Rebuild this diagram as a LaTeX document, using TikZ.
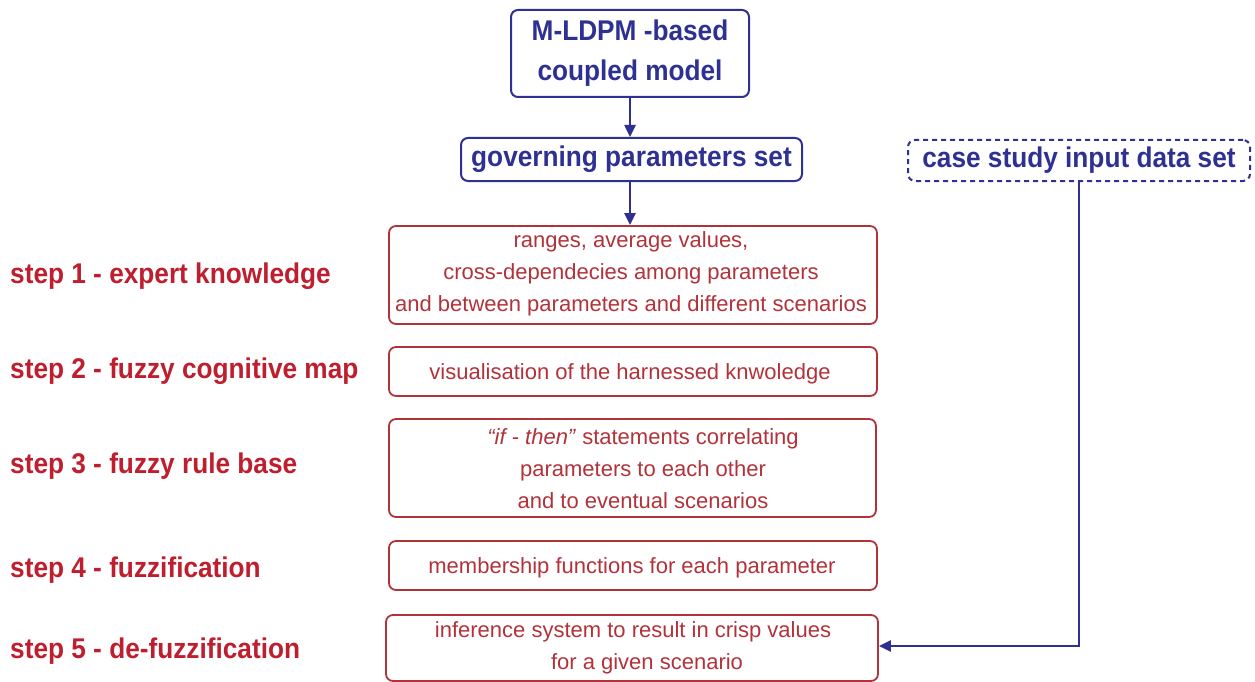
\documentclass[tikz,border=0pt]{standalone}
\usepackage{fontspec}
\setmainfont{Liberation Sans}
\newfontfamily\narrowbold[FakeStretch=0.92]{Liberation Sans Bold}
\usetikzlibrary{arrows.meta,positioning}
\definecolor{navy}{RGB}{46,49,146}
\definecolor{lblred}{RGB}{190,30,45}
\definecolor{boxred}{RGB}{178,50,58}
\begin{document}
\begin{tikzpicture}[x=1pt,y=-1pt,
  bluebox/.style={draw=navy,line width=2pt,rounded corners=7pt,text=navy,font=\fontsize{28.5}{40}\narrowbold,align=center,inner sep=0pt},
  redbox/.style={draw=boxred,line width=1.8pt,rounded corners=7pt,inner sep=0pt},
  boxtext/.style={text=boxred,font=\fontsize{22}{32}\selectfont,align=center,inner sep=0pt},
  steplabel/.style={text=lblred,font=\fontsize{28.5}{30}\narrowbold,anchor=base west,inner sep=0pt},
  flow/.style={draw=navy,line width=2.5pt,-{Triangle[length=12pt,width=11pt]}}]
\useasboundingbox (0,0) rectangle (1255,682);
% blue boxes
\node[bluebox,minimum width=238pt,minimum height=87pt] (mldpm) at (630,53.5) {M-LDPM -based\\coupled model};
\node[bluebox,minimum width=341pt,minimum height=43pt] (gov) at (631.5,159.5) {governing parameters set};
\node[bluebox,dashed,dash pattern=on 5pt off 4pt,minimum width=342pt,minimum height=41pt] (case) at (1079,160.5) {case study input data set};
% red boxes
\node[redbox,minimum width=488pt,minimum height=98pt] (b1) at (633,275) {};
\node[redbox,minimum width=488pt,minimum height=49pt] (b2) at (633,371.5) {};
\node[redbox,minimum width=487pt,minimum height=98pt] (b3) at (632.5,468) {};
\node[redbox,minimum width=488pt,minimum height=49pt] (b4) at (633,565.5) {};
\node[redbox,minimum width=492pt,minimum height=66pt] (b5) at (632,648) {};
% box texts
\node[boxtext] (t1) at (631,274) {ranges, average values,\\cross-dependecies among parameters\\and between parameters and different scenarios};
\node[boxtext] (t2) at (630,374) {visualisation of the harnessed knwoledge};
\node[boxtext] (t3) at (643,469) {\textit{“if - then”} statements correlating\\parameters to each other\\and to eventual scenarios};
\node[boxtext] (t4) at (632,568) {membership functions for each parameter};
\node[boxtext] (t5) at (633,648) {inference system to result in crisp values\\\hspace*{28pt}for a given scenario};
% step labels
\node[steplabel] (s1) at (10,283) {step 1 - expert knowledge};
\node[steplabel] (s2) at (10,378) {step 2 - fuzzy cognitive map};
\node[steplabel] (s3) at (10,473) {step 3 - fuzzy rule base};
\node[steplabel] (s4) at (10,577) {step 4 - fuzzification};
\node[steplabel] (s5) at (10,658) {step 5 - de-fuzzification};
% connectors
\draw[flow] (mldpm.south) -- (mldpm.south |- gov.north);
\draw[flow] (mldpm.south |- gov.south) -- (mldpm.south |- b1.north);
\coordinate (turn) at (case.south |- 0,646);
\draw[flow] (case.south) -- (turn) -- (b5.east |- turn);
\end{tikzpicture}
\end{document}
